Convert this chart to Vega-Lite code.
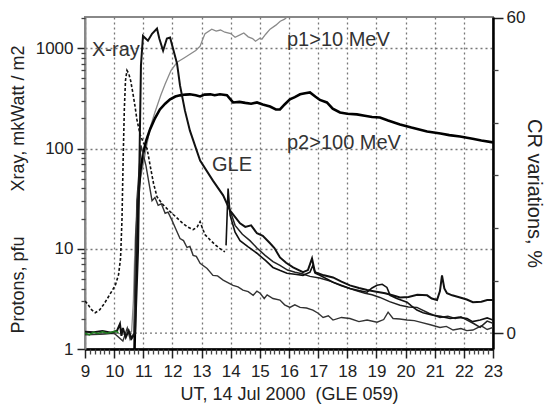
{
  "$schema": "https://vega.github.io/schema/vega-lite/v6.json",
  "width": 408,
  "height": 332,
  "autosize": "none",
  "padding": {"left": 85, "top": 17, "right": 57, "bottom": 70},
  "background": "white",
  "config": {
    "view": {"stroke": "#888", "strokeWidth": 2},
    "font": "Liberation Sans",
    "axis": {"labelFont": "Liberation Sans", "titleFont": "Liberation Sans", "titleFontWeight": "normal", "labelColor": "#222", "titleColor": "#222", "ticks": true, "tickColor": "#222", "tickOpacity": 1, "tickWidth": 1.5, "gridColor": "#777", "gridDash": [2, 3], "gridWidth": 1.3, "zindex": 1},
    "axisX": {"ticks": true, "tickColor": "#222", "tickOpacity": 1, "tickWidth": 1.5},
    "axisY": {"ticks": true, "tickColor": "#222", "tickOpacity": 1, "tickWidth": 1.5}
  },
  "datasets": {
    "d": [
      {"s":"Xray","h":9,"v":3.0},{"s":"Xray","h":9.1,"v":2.8},{"s":"Xray","h":9.2,"v":2.5},{"s":"Xray","h":9.35,"v":2.3},{"s":"Xray","h":9.5,"v":2.45},{"s":"Xray","h":9.65,"v":2.8},{"s":"Xray","h":9.8,"v":3.3},{"s":"Xray","h":9.95,"v":3.9},{"s":"Xray","h":10.05,"v":4.4},{"s":"Xray","h":10.15,"v":5.5},{"s":"Xray","h":10.22,"v":8},{"s":"Xray","h":10.27,"v":20},{"s":"Xray","h":10.31,"v":80},{"s":"Xray","h":10.35,"v":250},{"s":"Xray","h":10.39,"v":480},{"s":"Xray","h":10.44,"v":600},{"s":"Xray","h":10.5,"v":560},{"s":"Xray","h":10.57,"v":470},{"s":"Xray","h":10.65,"v":347},{"s":"Xray","h":10.72,"v":260},{"s":"Xray","h":10.78,"v":195},{"s":"Xray","h":10.89,"v":138},{"s":"Xray","h":11.0,"v":115},{"s":"Xray","h":11.13,"v":100},{"s":"Xray","h":11.23,"v":69},{"s":"Xray","h":11.35,"v":45},{"s":"Xray","h":11.47,"v":33},{"s":"Xray","h":11.65,"v":28},{"s":"Xray","h":11.85,"v":24.5},{"s":"Xray","h":12.1,"v":21},{"s":"Xray","h":12.33,"v":18.2},{"s":"Xray","h":12.52,"v":16.5},{"s":"Xray","h":12.71,"v":15.5},{"s":"Xray","h":12.85,"v":16.5},{"s":"Xray","h":12.95,"v":18.6},{"s":"Xray","h":13.03,"v":16},{"s":"Xray","h":13.12,"v":13.8},{"s":"Xray","h":13.3,"v":12.2},{"s":"Xray","h":13.46,"v":11},{"s":"Xray","h":13.62,"v":10.1},{"s":"Xray","h":13.8,"v":9.3},

      {"s":"p1","h":9,"v":1.4},{"s":"p1","h":9.5,"v":1.4},{"s":"p1","h":10,"v":1.45},{"s":"p1","h":10.4,"v":1.4},{"s":"p1","h":10.6,"v":1.5},{"s":"p1","h":10.66,"v":3},{"s":"p1","h":10.72,"v":12},{"s":"p1","h":10.8,"v":28},{"s":"p1","h":10.89,"v":49},{"s":"p1","h":11.0,"v":70},{"s":"p1","h":11.1,"v":100},{"s":"p1","h":11.23,"v":160},{"s":"p1","h":11.4,"v":230},{"s":"p1","h":11.6,"v":340},{"s":"p1","h":11.75,"v":440},{"s":"p1","h":11.95,"v":600},{"s":"p1","h":12.16,"v":724},{"s":"p1","h":12.4,"v":800},{"s":"p1","h":12.6,"v":870},{"s":"p1","h":12.8,"v":950},{"s":"p1","h":12.95,"v":1047},{"s":"p1","h":13.05,"v":1250},{"s":"p1","h":13.12,"v":1400},{"s":"p1","h":13.35,"v":1550},{"s":"p1","h":13.5,"v":1480},{"s":"p1","h":13.65,"v":1520},{"s":"p1","h":13.8,"v":1445},{"s":"p1","h":14.0,"v":1400},{"s":"p1","h":14.15,"v":1288},{"s":"p1","h":14.3,"v":1350},{"s":"p1","h":14.45,"v":1420},{"s":"p1","h":14.6,"v":1300},{"s":"p1","h":14.75,"v":1250},{"s":"p1","h":14.85,"v":1175},{"s":"p1","h":15.0,"v":1260},{"s":"p1","h":15.07,"v":1230},{"s":"p1","h":15.2,"v":1380},{"s":"p1","h":15.35,"v":1550},{"s":"p1","h":15.55,"v":1700},{"s":"p1","h":15.7,"v":1860},{"s":"p1","h":15.85,"v":1950},{"s":"p1","h":15.97,"v":2100},{"s":"p1","h":16.2,"v":2500},

      {"s":"p2","h":10.7,"v":1.0},{"s":"p2","h":10.73,"v":3},{"s":"p2","h":10.77,"v":12},{"s":"p2","h":10.82,"v":30},{"s":"p2","h":10.9,"v":60},{"s":"p2","h":11.0,"v":90},{"s":"p2","h":11.1,"v":120},{"s":"p2","h":11.23,"v":155},{"s":"p2","h":11.4,"v":200},{"s":"p2","h":11.57,"v":245},{"s":"p2","h":11.75,"v":280},{"s":"p2","h":11.92,"v":309},{"s":"p2","h":12.1,"v":330},{"s":"p2","h":12.26,"v":339},{"s":"p2","h":12.45,"v":345},{"s":"p2","h":12.6,"v":347},{"s":"p2","h":12.8,"v":340},{"s":"p2","h":12.95,"v":331},{"s":"p2","h":13.1,"v":345},{"s":"p2","h":13.3,"v":347},{"s":"p2","h":13.45,"v":340},{"s":"p2","h":13.63,"v":347},{"s":"p2","h":13.87,"v":340},{"s":"p2","h":14.08,"v":288},{"s":"p2","h":14.3,"v":292},{"s":"p2","h":14.5,"v":285},{"s":"p2","h":14.7,"v":280},{"s":"p2","h":14.9,"v":288},{"s":"p2","h":15.1,"v":275},{"s":"p2","h":15.35,"v":262},{"s":"p2","h":15.55,"v":245},{"s":"p2","h":15.69,"v":245},{"s":"p2","h":15.85,"v":275},{"s":"p2","h":16.03,"v":309},{"s":"p2","h":16.2,"v":325},{"s":"p2","h":16.38,"v":347},{"s":"p2","h":16.55,"v":355},{"s":"p2","h":16.72,"v":363},{"s":"p2","h":16.9,"v":330},{"s":"p2","h":17.06,"v":305},{"s":"p2","h":17.3,"v":288},{"s":"p2","h":17.5,"v":250},{"s":"p2","h":17.75,"v":229},{"s":"p2","h":18.0,"v":222},{"s":"p2","h":18.33,"v":219},{"s":"p2","h":18.6,"v":212},{"s":"p2","h":18.85,"v":206},{"s":"p2","h":19.12,"v":204},{"s":"p2","h":19.4,"v":190},{"s":"p2","h":19.81,"v":174},{"s":"p2","h":20.2,"v":162},{"s":"p2","h":20.74,"v":148},{"s":"p2","h":21.2,"v":141},{"s":"p2","h":21.5,"v":136},{"s":"p2","h":21.87,"v":132},{"s":"p2","h":22.3,"v":125},{"s":"p2","h":22.6,"v":120},{"s":"p2","h":23.0,"v":115},

      {"s":"CR1","h":9,"v":0.3},{"s":"CR1","h":9.3,"v":0.2},{"s":"CR1","h":9.6,"v":0.4},{"s":"CR1","h":9.9,"v":0.1},{"s":"CR1","h":10.1,"v":0.5},{"s":"CR1","h":10.2,"v":1.8},{"s":"CR1","h":10.25,"v":-0.5},{"s":"CR1","h":10.3,"v":1.0},{"s":"CR1","h":10.4,"v":-0.8},{"s":"CR1","h":10.5,"v":0.5},{"s":"CR1","h":10.6,"v":-1},{"s":"CR1","h":10.72,"v":0},{"s":"CR1","h":10.82,"v":15.7},{"s":"CR1","h":10.92,"v":50.9},{"s":"CR1","h":10.99,"v":56.5},{"s":"CR1","h":11.16,"v":55.6},{"s":"CR1","h":11.3,"v":56.9},{"s":"CR1","h":11.47,"v":57.9},{"s":"CR1","h":11.55,"v":56},{"s":"CR1","h":11.68,"v":53.7},{"s":"CR1","h":11.81,"v":56.0},{"s":"CR1","h":11.92,"v":56.2},{"s":"CR1","h":12.02,"v":54.1},{"s":"CR1","h":12.16,"v":51.2},{"s":"CR1","h":12.26,"v":47.1},{"s":"CR1","h":12.43,"v":42.3},{"s":"CR1","h":12.6,"v":38.5},{"s":"CR1","h":12.95,"v":32.8},{"s":"CR1","h":13.39,"v":29.0},{"s":"CR1","h":13.74,"v":26.2},{"s":"CR1","h":13.98,"v":23.3},{"s":"CR1","h":14.32,"v":20.9},{"s":"CR1","h":14.5,"v":20.2},{"s":"CR1","h":14.7,"v":20.5},{"s":"CR1","h":14.9,"v":19.0},{"s":"CR1","h":15.1,"v":18.5},{"s":"CR1","h":15.35,"v":17.1},{"s":"CR1","h":15.5,"v":16.2},{"s":"CR1","h":15.69,"v":14.4},{"s":"CR1","h":15.9,"v":13.4},{"s":"CR1","h":16.14,"v":12.5},{"s":"CR1","h":16.48,"v":11.6},{"s":"CR1","h":16.65,"v":12},{"s":"CR1","h":16.79,"v":14.2},{"s":"CR1","h":16.89,"v":11.6},{"s":"CR1","h":17.2,"v":11.0},{"s":"CR1","h":17.51,"v":10.6},{"s":"CR1","h":17.8,"v":9.8},{"s":"CR1","h":18.09,"v":9.1},{"s":"CR1","h":18.4,"v":8.6},{"s":"CR1","h":18.68,"v":8.2},{"s":"CR1","h":19.0,"v":7.9},{"s":"CR1","h":19.3,"v":7.6},{"s":"CR1","h":19.55,"v":7.2},{"s":"CR1","h":19.81,"v":6.8},{"s":"CR1","h":20.1,"v":6.9},{"s":"CR1","h":20.4,"v":7.3},{"s":"CR1","h":20.74,"v":7.2},{"s":"CR1","h":20.9,"v":6.6},{"s":"CR1","h":21.08,"v":6.3},{"s":"CR1","h":21.18,"v":8.0},{"s":"CR1","h":21.25,"v":11.0},{"s":"CR1","h":21.33,"v":8.5},{"s":"CR1","h":21.42,"v":7.6},{"s":"CR1","h":21.6,"v":7.2},{"s":"CR1","h":21.87,"v":6.8},{"s":"CR1","h":22.1,"v":6.4},{"s":"CR1","h":22.31,"v":5.9},{"s":"CR1","h":22.6,"v":6.0},{"s":"CR1","h":22.8,"v":6.3},{"s":"CR1","h":23.0,"v":6.3},

      {"s":"CR2","h":13.84,"v":16.7},{"s":"CR2","h":13.91,"v":27.5},{"s":"CR2","h":13.98,"v":22.4},{"s":"CR2","h":14.15,"v":19.2},{"s":"CR2","h":14.32,"v":17.6},{"s":"CR2","h":14.6,"v":16.4},{"s":"CR2","h":14.9,"v":15.2},{"s":"CR2","h":15.2,"v":13.8},{"s":"CR2","h":15.45,"v":12.5},{"s":"CR2","h":15.7,"v":11.9},{"s":"CR2","h":15.93,"v":11.4},{"s":"CR2","h":16.2,"v":11.2},{"s":"CR2","h":16.48,"v":11.0},{"s":"CR2","h":16.72,"v":11.6},{"s":"CR2","h":16.82,"v":12.9},{"s":"CR2","h":16.9,"v":11.4},{"s":"CR2","h":17.06,"v":11.0},{"s":"CR2","h":17.3,"v":10.3},{"s":"CR2","h":17.51,"v":9.7},{"s":"CR2","h":17.8,"v":9.0},{"s":"CR2","h":18.09,"v":8.5},{"s":"CR2","h":18.4,"v":8.1},{"s":"CR2","h":18.68,"v":7.8},{"s":"CR2","h":18.85,"v":8.6},{"s":"CR2","h":19.02,"v":9.1},{"s":"CR2","h":19.2,"v":9.3},{"s":"CR2","h":19.36,"v":8.7},{"s":"CR2","h":19.47,"v":7.2},{"s":"CR2","h":19.7,"v":6.6},{"s":"CR2","h":20.05,"v":5.9},{"s":"CR2","h":20.2,"v":5.2},{"s":"CR2","h":20.39,"v":4.4},{"s":"CR2","h":20.6,"v":3.9},{"s":"CR2","h":20.94,"v":3.4},{"s":"CR2","h":21.2,"v":3.2},{"s":"CR2","h":21.53,"v":2.8},{"s":"CR2","h":21.8,"v":3.0},{"s":"CR2","h":22.11,"v":2.8},{"s":"CR2","h":22.3,"v":2.2},{"s":"CR2","h":22.56,"v":2.5},{"s":"CR2","h":22.8,"v":2.9},{"s":"CR2","h":23.0,"v":2.5},

      {"s":"CR3","h":13.98,"v":23.3},{"s":"CR3","h":14.15,"v":20.5},{"s":"CR3","h":14.4,"v":18.8},{"s":"CR3","h":14.66,"v":17.6},{"s":"CR3","h":14.9,"v":16.2},{"s":"CR3","h":15.18,"v":14.8},{"s":"CR3","h":15.45,"v":13.6},{"s":"CR3","h":15.69,"v":12.9},{"s":"CR3","h":15.95,"v":12.0},{"s":"CR3","h":16.21,"v":11.6},{"s":"CR3","h":16.45,"v":11.3},{"s":"CR3","h":16.72,"v":10.8},{"s":"CR3","h":17.05,"v":10.5},{"s":"CR3","h":17.41,"v":9.9},{"s":"CR3","h":17.75,"v":9.2},{"s":"CR3","h":18.09,"v":8.5},{"s":"CR3","h":18.35,"v":8.0},{"s":"CR3","h":18.61,"v":7.6},{"s":"CR3","h":18.85,"v":7.3},{"s":"CR3","h":19.12,"v":6.8},{"s":"CR3","h":19.45,"v":6.0},{"s":"CR3","h":19.81,"v":5.3},{"s":"CR3","h":20.1,"v":5.0},{"s":"CR3","h":20.39,"v":4.9},{"s":"CR3","h":20.8,"v":3.8},{"s":"CR3","h":21.18,"v":3.0},{"s":"CR3","h":21.45,"v":3.2},{"s":"CR3","h":21.7,"v":2.8},{"s":"CR3","h":21.9,"v":3.1},{"s":"CR3","h":22.11,"v":2.5},{"s":"CR3","h":22.35,"v":1.8},{"s":"CR3","h":22.56,"v":1.1},{"s":"CR3","h":22.8,"v":2.3},{"s":"CR3","h":23.0,"v":1.9},

      {"s":"CR4","h":9,"v":-0.3},{"s":"CR4","h":9.5,"v":-0.2},{"s":"CR4","h":10.0,"v":0},{"s":"CR4","h":10.3,"v":-1.5},{"s":"CR4","h":10.45,"v":1},{"s":"CR4","h":10.55,"v":-1.2},{"s":"CR4","h":10.68,"v":0},{"s":"CR4","h":10.78,"v":25.2},{"s":"CR4","h":10.92,"v":35.7},{"s":"CR4","h":11.09,"v":31.9},{"s":"CR4","h":11.3,"v":25.2},{"s":"CR4","h":11.4,"v":25.8},{"s":"CR4","h":11.51,"v":24.3},{"s":"CR4","h":11.62,"v":24.6},{"s":"CR4","h":11.75,"v":22.8},{"s":"CR4","h":11.85,"v":23.0},{"s":"CR4","h":11.99,"v":21.4},{"s":"CR4","h":12.1,"v":20.0},{"s":"CR4","h":12.26,"v":18.0},{"s":"CR4","h":12.38,"v":17.6},{"s":"CR4","h":12.5,"v":16.3},{"s":"CR4","h":12.6,"v":16.5},{"s":"CR4","h":12.71,"v":14.8},{"s":"CR4","h":12.82,"v":14.6},{"s":"CR4","h":12.95,"v":13.3},{"s":"CR4","h":13.19,"v":12.3},{"s":"CR4","h":13.39,"v":11.0},{"s":"CR4","h":13.55,"v":10.9},{"s":"CR4","h":13.74,"v":10.1},{"s":"CR4","h":14.08,"v":9.1},{"s":"CR4","h":14.25,"v":8.8},{"s":"CR4","h":14.42,"v":8.2},{"s":"CR4","h":14.6,"v":7.9},{"s":"CR4","h":14.77,"v":7.2},{"s":"CR4","h":14.9,"v":8.0},{"s":"CR4","h":15.01,"v":7.6},{"s":"CR4","h":15.15,"v":6.6},{"s":"CR4","h":15.25,"v":7.3},{"s":"CR4","h":15.45,"v":6.6},{"s":"CR4","h":15.69,"v":6.3},{"s":"CR4","h":15.85,"v":5.4},{"s":"CR4","h":16.03,"v":4.9},{"s":"CR4","h":16.2,"v":5.4},{"s":"CR4","h":16.38,"v":4.9},{"s":"CR4","h":16.6,"v":4.8},{"s":"CR4","h":16.82,"v":4.4},{"s":"CR4","h":17.0,"v":3.8},{"s":"CR4","h":17.17,"v":3.0},{"s":"CR4","h":17.35,"v":3.3},{"s":"CR4","h":17.51,"v":2.5},{"s":"CR4","h":17.8,"v":3.0},{"s":"CR4","h":18.09,"v":2.8},{"s":"CR4","h":18.4,"v":2.2},{"s":"CR4","h":18.68,"v":2.5},{"s":"CR4","h":19.02,"v":2.1},{"s":"CR4","h":19.25,"v":2.6},{"s":"CR4","h":19.4,"v":4.0},{"s":"CR4","h":19.57,"v":2.8},{"s":"CR4","h":19.8,"v":2.7},{"s":"CR4","h":20.05,"v":2.5},{"s":"CR4","h":20.3,"v":2.4},{"s":"CR4","h":20.5,"v":2.1},{"s":"CR4","h":20.85,"v":1.6},{"s":"CR4","h":21.18,"v":1.1},{"s":"CR4","h":21.4,"v":1.3},{"s":"CR4","h":21.63,"v":0.6},{"s":"CR4","h":21.9,"v":0.9},{"s":"CR4","h":22.1,"v":0.5},{"s":"CR4","h":22.31,"v":0.6},{"s":"CR4","h":22.6,"v":1.4},{"s":"CR4","h":22.8,"v":0.7},{"s":"CR4","h":23.0,"v":1.1},

      {"s":"CRg","h":9,"v":0.0},{"s":"CRg","h":9.15,"v":-0.3},{"s":"CRg","h":9.3,"v":0.2},{"s":"CRg","h":9.45,"v":-0.1},{"s":"CRg","h":9.6,"v":0.3},{"s":"CRg","h":9.75,"v":0.0},{"s":"CRg","h":9.9,"v":0.2},{"s":"CRg","h":10.05,"v":0.4},{"s":"CRg","h":10.15,"v":0.1}
    ]
  },
  "data": {"name": "d"},
  "encoding": {
    "x": {
      "field": "h",
      "type": "quantitative",
      "scale": {"domain": [9, 23], "nice": false, "zero": false},
      "axis": {
        "orient": "bottom",
        "values": [9,10,11,12,13,14,15,16,17,18,19,20,21,22,23],
        "format": "d",
        "ticks": true,
        "tickSize": 9,
        "tickColor": "#222",
        "tickWidth": 1.5,
        "tickOpacity": 1,
        "grid": true,
        "domainColor": "#000",
        "domainWidth": 2.5,
        "labelFontSize": 17,
        "labelPadding": 5,
        "labelOverlap": false,
        "labelFlush": false,
        "title": "UT, 14 Jul 2000\u00a0\u00a0(GLE 059)",
        "titleFontSize": 18,
        "titleY": 50,
        "titleBaseline": "alphabetic"
      }
    }
  },
  "layer": [
    {
      "resolve": {"axis": {"y": "independent"}},
      "layer": [
        {
          "transform": [{"filter": "datum.s === 'p1'"}],
          "mark": {"type": "line", "color": "#8a8a8a", "strokeWidth": 1.3, "clip": true},
          "encoding": {
            "y": {
              "field": "v", "type": "quantitative",
              "scale": {"type": "log", "domain": [1, 2050], "nice": false},
              "axis": {
                "orient": "left",
                "values": [1, 10, 100, 1000],
                "format": "d",
                "ticks": true,
                "tickSize": 8,
                "tickColor": "#222",
                "tickWidth": 1.5,
                "tickOpacity": 1,
                "grid": true,
                "domainColor": "#888",
                "domainWidth": 2,
                "labelFontSize": 17,
                "labelPadding": 4,
                "labelOverlap": false,
                "title": "Protons,  pfu\u00a0\u00a0\u00a0\u00a0\u00a0\u00a0\u00a0\u00a0\u00a0Xray,  mkWatt / m2",
                "titleFontSize": 18,
                "titleAngle": -90,
                "titleX": -67,
                "titleY": 172,
                "titleAlign": "center",
                "titleBaseline": "middle"
              }
            }
          }
        },
        {
          "transform": [{"filter": "datum.s === 'Xray'"}],
          "mark": {"type": "line", "color": "#111", "strokeWidth": 1.6, "strokeDash": [3, 2], "clip": true},
          "encoding": {
            "y": {
              "field": "v", "type": "quantitative",
              "scale": {"type": "log", "domain": [1, 2050], "nice": false},
              "axis": {
                "orient": "left",
                "values": [2,3,4,5,6,7,8,9,20,30,40,50,60,70,80,90,200,300,400,500,600,700,800,900,2000],
                "ticks": true,
                "tickSize": 4,
                "tickColor": "#444",
                "tickWidth": 1.3,
                "tickOpacity": 1,
                "labels": false,
                "grid": false,
                "domain": false,
                "title": null
              }
            }
          }
        },
        {
          "transform": [{"filter": "datum.s === 'p2'"}],
          "mark": {"type": "line", "color": "#000", "strokeWidth": 2.6, "clip": true},
          "encoding": {"y": {"field": "v", "type": "quantitative", "scale": {"type": "log", "domain": [1, 2050], "nice": false}, "axis": null}}
        },
        {
          "data": {"values": [
            {"t": "X-ray", "h": 9.24, "v": 830},
            {"t": "p1>10 MeV", "h": 15.93, "v": 1047},
            {"t": "p2>100 MeV", "h": 15.93, "v": 98},
            {"t": "GLE", "h": 13.36, "v": 59}
          ]},
          "mark": {"type": "text", "align": "left", "baseline": "alphabetic", "fontSize": 20, "color": "#333", "font": "Liberation Sans"},
          "encoding": {
            "text": {"field": "t"},
            "y": {"field": "v", "type": "quantitative", "scale": {"type": "log", "domain": [1, 2050], "nice": false}, "axis": null}
          }
        }
      ]
    },
    {
      "resolve": {"axis": {"y": "independent"}},
      "encoding": {
        "x": {
          "field": "h",
          "type": "quantitative",
          "scale": {"domain": [9, 23], "nice": false, "zero": false},
          "axis": {
            "orient": "bottom",
            "values": [9.1667,9.3333,9.5,9.6667,9.8333,10.1667,10.3333,10.5,10.6667,10.8333,11.1667,11.3333,11.5,11.6667,11.8333,12.1667,12.3333,12.5,12.6667,12.8333,13.1667,13.3333,13.5,13.6667,13.8333,14.1667,14.3333,14.5,14.6667,14.8333,15.1667,15.3333,15.5,15.6667,15.8333,16.1667,16.3333,16.5,16.6667,16.8333,17.1667,17.3333,17.5,17.6667,17.8333,18.1667,18.3333,18.5,18.6667,18.8333,19.1667,19.3333,19.5,19.6667,19.8333,20.1667,20.3333,20.5,20.6667,20.8333,21.1667,21.3333,21.5,21.6667,21.8333,22.1667,22.3333,22.5,22.6667,22.8333],
            "ticks": true,
            "tickSize": 5,
            "tickColor": "#444",
            "tickWidth": 1.3,
            "tickOpacity": 1,
            "labels": false,
            "grid": false,
            "domain": false,
            "title": null
          }
        }
      },
      "layer": [
        {"data": {"values": [{"h": 9, "h2": 23}]}, "mark": {"type": "rule", "color": "#777", "strokeDash": [2, 3], "strokeWidth": 1.3}, "encoding": {"x2": {"field": "h2"}, "y": {"datum": 0, "type": "quantitative", "scale": {"domain": [-3, 60.1], "nice": false, "zero": false}, "axis": null}}},
        {
          "transform": [{"filter": "datum.s === 'CR4'"}],
          "mark": {"type": "line", "color": "#333", "strokeWidth": 1.4, "clip": true},
          "encoding": {
            "y": {
              "field": "v", "type": "quantitative",
              "scale": {"domain": [-3, 60.1], "nice": false, "zero": false},
              "axis": {
                "orient": "right",
                "values": [0, 60],
                "format": "d",
                "ticks": true,
                "tickSize": 10,
                "tickColor": "#222",
                "tickWidth": 1.5,
                "tickOpacity": 1,
                "grid": false,
                "domainColor": "#000",
                "domainWidth": 2.5,
                "labelFontSize": 17,
                "labelPadding": 3,
                "labelOverlap": false,
                "labelFlush": false,
                "title": "CR variations, %",
                "titleFontSize": 20,
                "titleAngle": 90,
                "titleX": 40,
                "titleY": 176,
                "titleAlign": "center",
                "titleBaseline": "middle"
              }
            }
          }
        },
        {
          "transform": [{"filter": "datum.s === 'CR3'"}],
          "mark": {"type": "line", "color": "#222", "strokeWidth": 1.5, "clip": true},
          "encoding": {
            "y": {
              "field": "v", "type": "quantitative",
              "scale": {"domain": [-3, 60.1], "nice": false, "zero": false},
              "axis": {"orient": "right", "values": [10, 20, 30, 40, 50], "ticks": true, "tickSize": 5, "tickColor": "#444", "tickWidth": 1.3, "tickOpacity": 1, "labels": false, "grid": false, "domain": false, "title": null}
            }
          }
        },
        {"transform": [{"filter": "datum.s === 'CR2'"}], "mark": {"type": "line", "color": "#111", "strokeWidth": 1.6, "clip": true}, "encoding": {"y": {"field": "v", "type": "quantitative", "scale": {"domain": [-3, 60.1], "nice": false, "zero": false}, "axis": null}}},
        {"transform": [{"filter": "datum.s === 'CR1'"}], "mark": {"type": "line", "color": "#111", "strokeWidth": 2, "clip": true}, "encoding": {"y": {"field": "v", "type": "quantitative", "scale": {"domain": [-3, 60.1], "nice": false, "zero": false}, "axis": null}}},
        {"transform": [{"filter": "datum.s === 'CRg'"}], "mark": {"type": "line", "color": "#1f7a1f", "strokeWidth": 1.6, "clip": true}, "encoding": {"y": {"field": "v", "type": "quantitative", "scale": {"domain": [-3, 60.1], "nice": false, "zero": false}, "axis": null}}}
      ]
    }
  ],
  "resolve": {"scale": {"y": "independent"}, "axis": {"x": "independent"}}
}
